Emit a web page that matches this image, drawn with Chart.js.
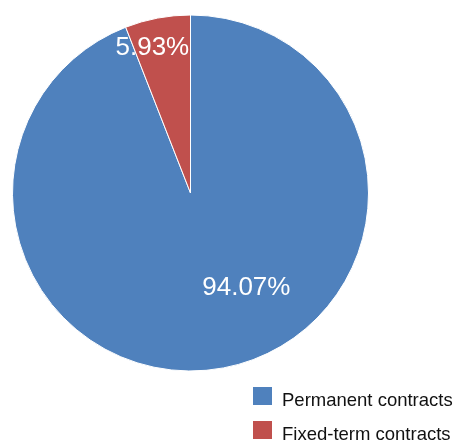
<!DOCTYPE html>
<html>
<head>
<meta charset="utf-8">
<script src="https://cdn.jsdelivr.net/npm/chart.js@4/dist/chart.umd.min.js"></script>
<style>
  html, body { margin: 0; padding: 0; background: #fff; }
  #wrap { position: relative; width: 454px; height: 440px; }
</style>
</head>
<body>
<div id="wrap"><canvas id="contractsChart" width="454" height="440"></canvas></div>
<script>
const categories = ["Permanent contracts", "Fixed-term contracts"];
const shares = [94.07, 5.93];
const sliceColors = ["#4f81bd", "#c0504d"];

// white percentage labels inside the slices
const sliceLabels = {
    id: "sliceLabels",
    afterDatasetsDraw(chart, args, opts) {
        const ctx = chart.ctx;
        const meta = chart.getDatasetMeta(0);
        ctx.save();
        ctx.fillStyle = "#fff";
        ctx.font = opts.font;
        ctx.textAlign = "center";
        ctx.textBaseline = "middle";
        meta.data.forEach((arc, i) => {
            const p = arc.getProps(["x", "y", "startAngle", "endAngle", "outerRadius"], true);
            const place = opts.place[i];
            const a = (p.startAngle + p.endAngle) / 2 + place.shift * Math.PI / 180;
            const r = p.outerRadius * place.radius;
            const value = chart.data.datasets[0].data[i];
            ctx.fillText(value.toFixed(2) + "%", p.x + r * Math.cos(a), p.y + r * Math.sin(a) + 1);
        });
        ctx.restore();
    }
};

// legend in the lower right corner
const cornerLegend = {
    id: "cornerLegend",
    afterDraw(chart, args, opts) {
        const ctx = chart.ctx;
        const ds = chart.data.datasets[0];
        ctx.save();
        ctx.font = opts.font;
        ctx.textBaseline = "alphabetic";
        chart.data.labels.forEach((label, i) => {
            const y = opts.top + i * opts.step;
            ctx.fillStyle = ds.backgroundColor[i];
            ctx.fillRect(opts.left, y, 19, 18);
            ctx.fillStyle = "#111";
            ctx.fillText(label, opts.left + 29, y + 19);
        });
        ctx.restore();
    }
};

new Chart(document.getElementById("contractsChart"), {
    type: "pie",
    data: {
        labels: categories,
        datasets: [{
            data: shares,
            backgroundColor: sliceColors,
            borderColor: "#fff",
            borderWidth: 1
        }]
    },
    options: {
        responsive: false,
        animation: false,
        layout: { padding: { left: 12, right: 85, top: 14, bottom: 68 } },
        plugins: {
            legend: { display: false },
            tooltip: { enabled: false },
            sliceLabels: {
                font: "26px 'Liberation Sans', Arial, sans-serif",
                place: [{ shift: -20, radius: 0.615 }, { shift: -4, radius: 0.846 }]
            },
            cornerLegend: {
                font: "18.5px 'Liberation Sans', Arial, sans-serif",
                left: 253, top: 387, step: 34
            }
        }
    },
    plugins: [sliceLabels, cornerLegend]
});
</script>
</body>
</html>
